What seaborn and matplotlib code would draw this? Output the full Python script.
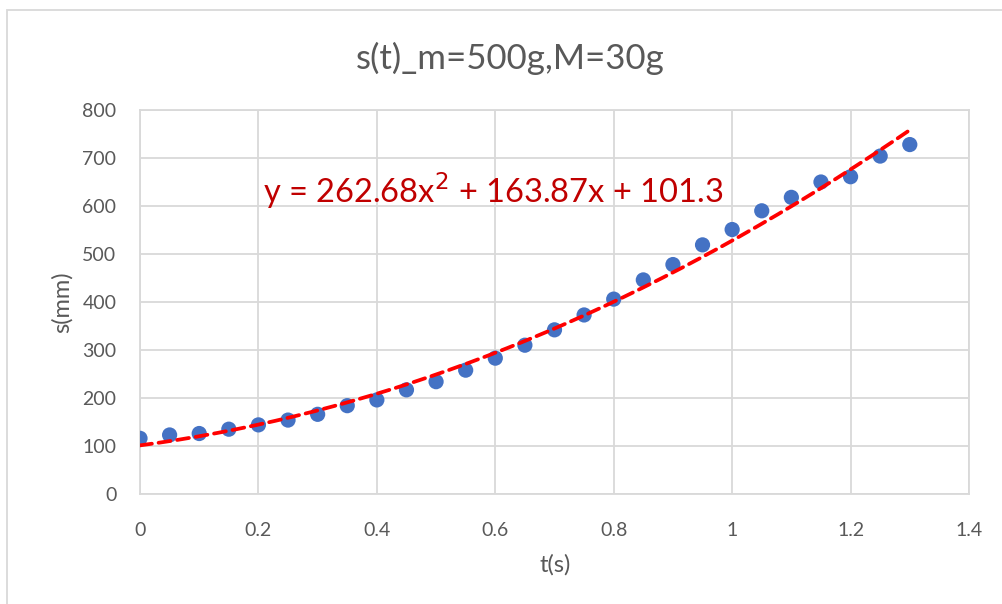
import numpy as np
import pandas as pd
import matplotlib
matplotlib.use("Agg")
import matplotlib.pyplot as plt
import seaborn as sns
from matplotlib.patches import Rectangle

t_values = [0, 0.05, 0.1, 0.15, 0.2, 0.25, 0.3, 0.35, 0.4, 0.45, 0.5, 0.55, 0.6, 0.65,
            0.7, 0.75, 0.8, 0.85, 0.9, 0.95, 1.0, 1.05, 1.1, 1.15, 1.2, 1.25, 1.3]
s_values = [116, 123, 126, 135, 144, 154, 166, 184, 196, 217, 234, 258, 283, 310,
            342, 373, 406, 446, 478, 519, 551, 590, 618, 650, 661, 704, 728]
trend_coeffs = [262.68, 163.87, 101.3]
x_ticks = [0, 0.2, 0.4, 0.6, 0.8, 1, 1.2, 1.4]
x_tick_labels = ["0", "0.2", "0.4", "0.6", "0.8", "1", "1.2", "1.4"]
y_ticks = [0, 100, 200, 300, 400, 500, 600, 700, 800]
title_text = "s(t)_m=500g,M=30g"
equation_text = "y = 262.68x$^2$ + 163.87x + 101.3"

sns.set_style("white")
plt.rcParams['font.family'] = ['Lato', 'DejaVu Sans']

df = pd.DataFrame({"t": t_values, "s": s_values})
trend_t = np.linspace(0, 1.3, 200)
trend_s = np.polyval(trend_coeffs, trend_t)
trend_df = pd.DataFrame({"t": trend_t, "s": trend_s})

fig = plt.figure(figsize=(10.03, 6.04), dpi=100)
ax = fig.add_axes([140/1003, 1 - 494/604, (969 - 140)/1003, (494 - 110)/604])

grid_c = "#D9D9D9"
text_c = "#595959"

sns.scatterplot(data=df, x="t", y="s", ax=ax, color="#4472C4", s=120,
                edgecolor="none", zorder=3)
sns.lineplot(data=trend_df, x="t", y="s", ax=ax, color="#FF0000", lw=2.7,
             dashes=False, zorder=4)
ax.lines[-1].set_dashes([3.2, 1.8])
ax.lines[-1].set_dash_capstyle("round")

ax.set_xlim(0, 1.4)
ax.set_ylim(0, 800)
ax.set_xticks(x_ticks)
ax.set_xticklabels(x_tick_labels)
ax.set_yticks(y_ticks)
ax.grid(True, color=grid_c, lw=1.3)
ax.set_axisbelow(True)
for side in ["top", "right", "left", "bottom"]:
    ax.spines[side].set_color(grid_c)
    ax.spines[side].set_linewidth(1.3)
ax.tick_params(axis="both", length=0, labelsize=14, labelcolor=text_c)
ax.tick_params(axis="x", pad=20)
ax.tick_params(axis="y", pad=17)

ax.set_xlabel("t(s)", fontsize=17, color=text_c)
ax.set_ylabel("s(mm)", fontsize=17, color=text_c)
ax.xaxis.set_label_coords((555 - 140)/829, -(565 - 494)/384)
ax.yaxis.set_label_coords(-(140 - 62)/829, 0.5)
ax.xaxis.label.set_va("center")
ax.yaxis.label.set_va("center")

fig.text(510/1003, 1 - 58/604, title_text, ha="center", va="center",
         fontsize=25, color=text_c)
ax.text(0.208, 632, equation_text, ha="left", va="center", fontsize=23.5,
        color="#C00000")

fig.patches.append(Rectangle((7/1003, -0.1), 1.2, 1 - 10/604 + 0.1,
                             transform=fig.transFigure, fill=False,
                             edgecolor=grid_c, lw=1.3))

fig.savefig("out.png", dpi=100, facecolor="white")
